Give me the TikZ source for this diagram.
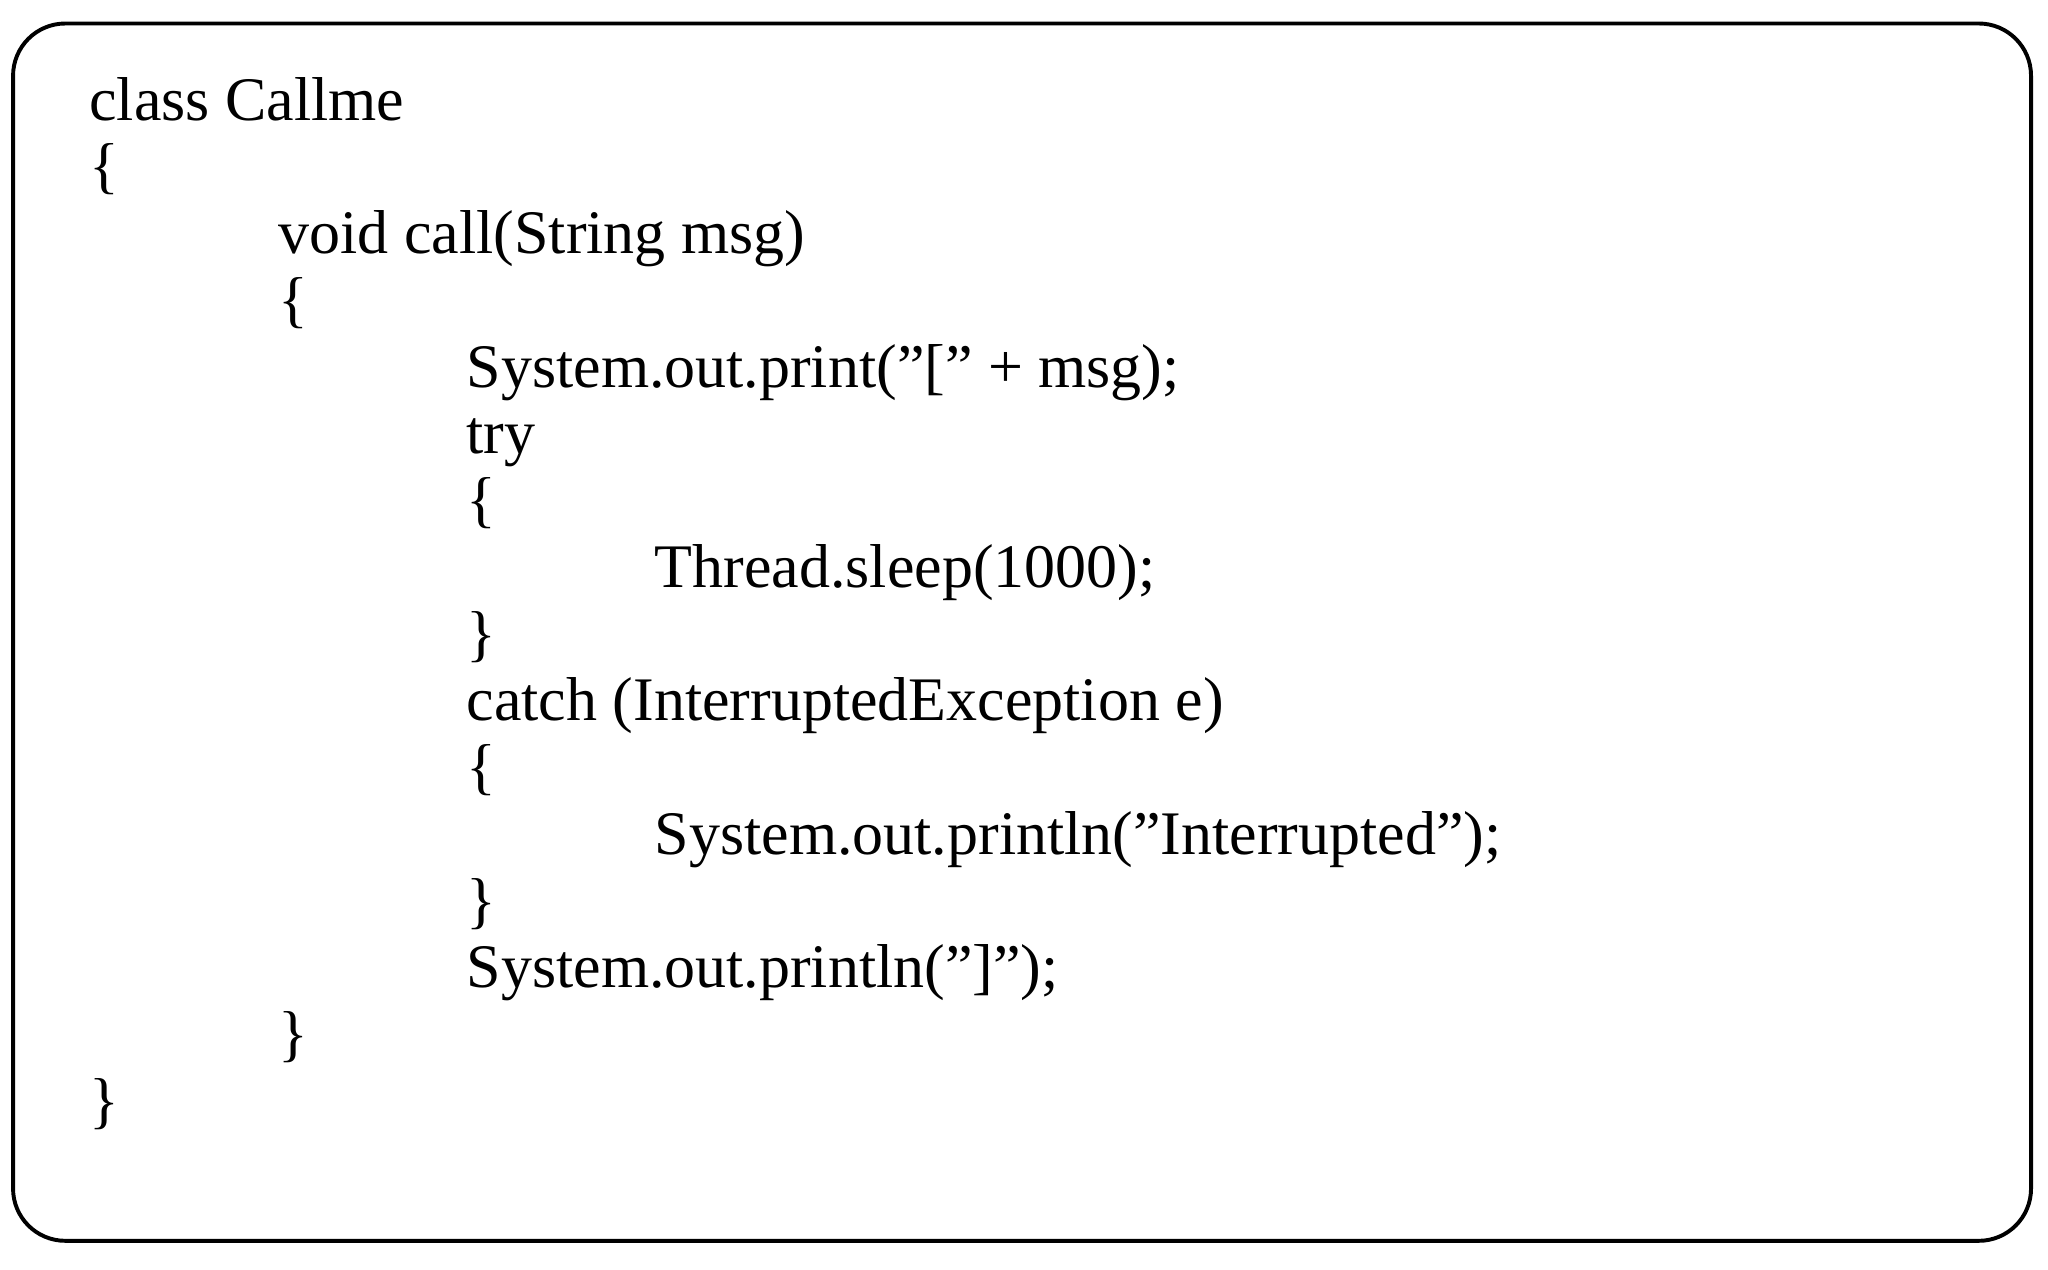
\documentclass[tikz,border=0pt]{standalone}
\usepackage{fontspec}
\setmainfont{Liberation Serif}
\begin{document}
\begin{tikzpicture}[x=0.02cm,y=-0.02cm,
  code/.style={anchor=base west,inner sep=0pt,font=\fontsize{27}{30}\selectfont}]
\useasboundingbox (0,0) rectangle (1568,972);
\draw[line width=0.06cm,rounded corners=0.8cm] (10,18) rectangle (1555,950);
\def\ln#1#2#3#4{\node[code] (#1) at (#2,{#3*51.1+92}) {#4};}
\ln{l0}{68}{0}{class Callme}
\ln{l1}{68}{1}{\{}
\ln{l2}{213}{2}{void call(String msg)}
\ln{l3}{213}{3}{\{}
\ln{l4}{357}{4}{System.out.print("[" + msg);}
\ln{l5}{357}{5}{try}
\ln{l6}{357}{6}{\{}
\ln{l7}{501}{7}{Thread.sleep(1000);}
\ln{l8}{357}{8}{\}}
\ln{l9}{357}{9}{catch (InterruptedException e)}
\ln{l10}{357}{10}{\{}
\ln{l11}{501}{11}{System.out.println("Interrupted");}
\ln{l12}{357}{12}{\}}
\ln{l13}{357}{13}{System.out.println("]");}
\ln{l14}{213}{14}{\}}
\ln{l15}{68}{15}{\}}
\end{tikzpicture}
\end{document}
